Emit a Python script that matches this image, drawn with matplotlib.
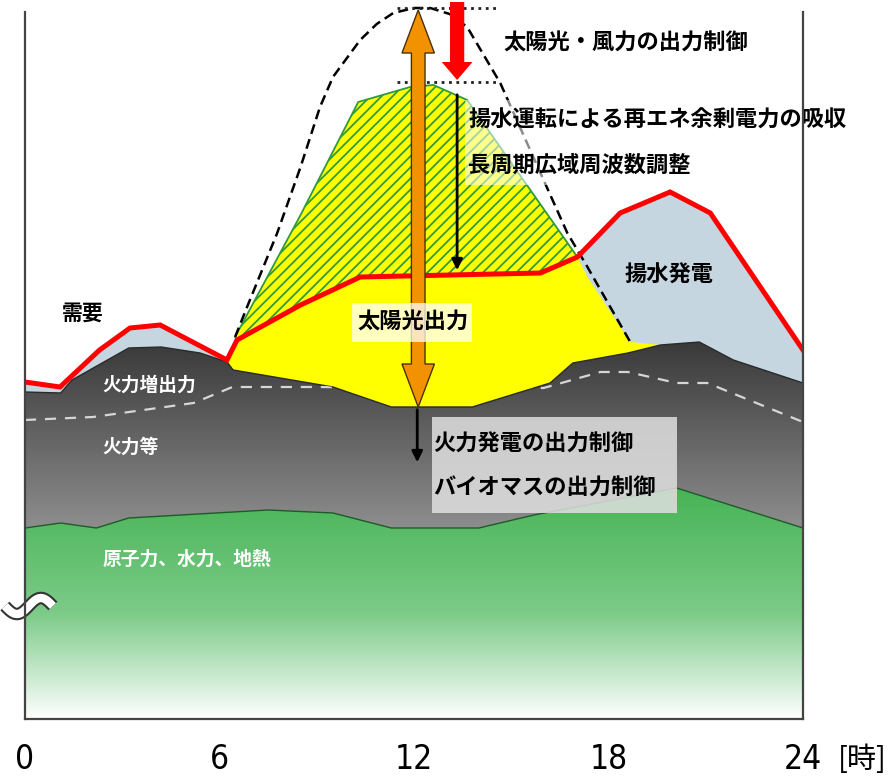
import matplotlib
matplotlib.use('Agg')
import matplotlib.pyplot as plt
import numpy as np
from matplotlib.patches import Polygon, Rectangle, FancyArrow
from matplotlib.colors import LinearSegmentedColormap

plt.rcParams['font.family'] = ['Noto Sans CJK JP', 'DejaVu Sans']
plt.rcParams['hatch.linewidth'] = 1.3

## data (hour of day, relative output)
# nuclear / hydro / geothermal (top edge)
base_h = [0, 1.1, 2.2, 3.2, 7.5, 9.5, 11.3, 14.0, 15.7, 20.1, 24]
base_v = [191, 196, 191, 201, 209, 206, 191, 191, 204, 231, 191]

# thermal etc. (top edge)
thermal_h = [0, 1.1, 1.45, 3.2, 4.2, 5.4, 6.23, 6.42, 9.5, 11.3, 13.8, 16.2, 16.9, 18.6, 19.6, 20.8, 21.85, 24]
thermal_v = [327, 326, 339, 371, 372, 366, 357, 349, 332, 312, 312, 336, 356, 366, 374, 377, 359, 336]

# boundary between base thermal and thermal increase (white dashed)
thermal_base_h = [0, 2.1, 5.2, 6.4, 8.8, 16.0, 17.75, 18.6, 20.1, 21.05, 24]
thermal_base_v = [299, 302, 316, 332, 332, 331, 347, 347, 336, 336, 297]

# demand (red line)
demand_h = [0, 1.08, 2.3, 3.24, 4.17, 6.23, 6.54, 8.5, 10.34, 15.9, 17.04, 18.36, 19.9, 21.14, 24]
demand_v = [337, 332, 369, 391, 394, 359, 379, 414, 442, 446, 462, 506, 527, 506, 369]

# solar after curtailment (green outline of hatched area)
solar_h = [6.48, 8.5, 10.28, 11.88, 12.6, 13.64, 17.04]
solar_v = [382, 504, 617, 632, 634, 619, 462]

# solar right edge going down to thermal
solar_edge_h = [17.35, 18.67, 19.6]
solar_edge_v = [442, 377, 374]

# potential solar output (black dashed)
potential_h = [6.48, 6.85, 7.78, 8.5, 9.1, 9.5, 10.34, 10.85, 11.36, 12.0, 12.5, 13.1, 13.64, 14.66, 15.68, 16.73, 17.35, 18.67]
potential_v = [382, 412, 486, 552, 612, 642, 679, 695, 706, 711, 711, 705, 692, 636, 562, 486, 452, 377]

fig = plt.figure(figsize=(8.88, 7.8), dpi=100)
ax = fig.add_axes([25 / 888, 61 / 780, 778 / 888, 719 / 780])
ax.set_xlim(0, 24)
ax.set_ylim(0, 719)


def gradient_fill(xs, ys, stops, ytop, z):
    verts = list(zip(xs, ys)) + [(xs[-1], 0), (xs[0], 0)]
    p = Polygon(verts, closed=True, facecolor='none', edgecolor='none', transform=ax.transData)
    ax.add_patch(p)
    cmap = LinearSegmentedColormap.from_list('grad', stops)
    grad = np.linspace(0, 1, 256).reshape(-1, 1)
    im = ax.imshow(grad, extent=[0, 24, 0, ytop], origin='lower', aspect='auto', cmap=cmap, zorder=z)
    im.set_clip_path(p)
    return p


# pumped storage generation (light blue, under demand)
ax.fill_between(demand_h, demand_v, 0, color='#c5d6e0', lw=0, zorder=1)

# solar output (yellow)
dem_in = [(h, v) for h, v in zip(demand_h, demand_v) if 6.2 <= h <= 17.1]
yverts = dem_in + list(zip(solar_edge_h, solar_edge_v)) + [(solar_edge_h[-1], 0), (dem_in[0][0], 0)]
ax.add_patch(Polygon(yverts, closed=True, facecolor='#ffff00', edgecolor='none', zorder=2))

# hatched: surplus absorbed by pumping
hverts = list(zip(solar_h, solar_v)) + [(h, v) for h, v in zip(demand_h, demand_v) if 6.5 <= h <= 17.0][::-1]
ax.add_patch(Polygon(hverts, closed=True, facecolor='#ffff00', edgecolor='#2f9a3a',
                     hatch='///', lw=1.3, zorder=3))

# thermal (grey gradient)
grey_poly = gradient_fill(thermal_h, thermal_v,
                          [(0, '#9a9a9a'), (0.5, '#8e8e8e'), (1, '#383838')], 380, 4)
ax.plot(thermal_h, thermal_v, color='#2a2a2a', lw=1, zorder=4.5)

# white dashed inside thermal
wl, = ax.plot(thermal_base_h, thermal_base_v, color='#d6d6d6', lw=1.6, dashes=(5, 4), zorder=4.6)
wl.set_clip_path(grey_poly)

# nuclear / hydro / geothermal (green gradient)
gradient_fill(base_h, base_v, [(0, '#ffffff'), (0.45, '#7ccb88'), (1, '#45b354')], 235, 5)
ax.plot(base_h, base_v, color='#1f5a2a', lw=1, zorder=5.5)

# potential solar (black dashed)
ax.plot(potential_h, potential_v, color='black', lw=1.8, dashes=(4, 2.2), zorder=6)

# demand
ax.plot(demand_h, demand_v, color='#ff0000', lw=3.6, zorder=7, solid_joinstyle='miter')

# dotted reference lines
ax.plot([11.48, 14.66], [711, 711], color='#222222', lw=2, ls=':', zorder=7)
ax.plot([11.48, 14.66], [637, 637], color='#222222', lw=2, ls=':', zorder=7)

# red curtailment arrow
ax.add_patch(FancyArrow(13.33, 717, 0, -78, width=0.44, head_width=0.95, head_length=18,
                        length_includes_head=True, color='#ff0000', lw=0, zorder=8))

# orange double arrow
ox, oy0, oy1, sw, hw, hl = 12.13, 312, 709, 0.42, 1.0, 43
overts = [(ox, oy1), (ox + hw / 2, oy1 - hl), (ox + sw / 2, oy1 - hl), (ox + sw / 2, oy0 + hl),
          (ox + hw / 2, oy0 + hl), (ox, oy0), (ox - hw / 2, oy0 + hl), (ox - sw / 2, oy0 + hl),
          (ox - sw / 2, oy1 - hl), (ox - hw / 2, oy1 - hl)]
ax.add_patch(Polygon(overts, closed=True, facecolor='#f39200', edgecolor='#4a3000', lw=1, zorder=8))

# black arrows
ax.annotate('', xy=(13.33, 446), xytext=(13.33, 627),
            arrowprops=dict(arrowstyle='-|>', color='black', lw=2, mutation_scale=16), zorder=9)
ax.annotate('', xy=(12.1, 254), xytext=(12.1, 312),
            arrowprops=dict(arrowstyle='-|>', color='black', lw=2, mutation_scale=16), zorder=9)

# label boxes
ax.add_patch(Rectangle((10.09, 377), 3.71, 39, facecolor='white', alpha=0.75, lw=0, zorder=9))
ax.add_patch(Rectangle((13.58, 534), 12.1, 85, facecolor='white', alpha=0.55, lw=0, zorder=9, clip_on=False))
ax.add_patch(Rectangle((12.56, 206), 7.56, 96, facecolor='#e0e0e0', alpha=0.85, lw=0, zorder=9))

# texts
bold = dict(fontweight='bold', zorder=10)
ax.text(1.79, 406, '需要', fontsize=15, ha='center', va='center', color='black', **bold)
ax.text(2.38, 334, '火力増出力', fontsize=13.5, ha='left', va='center', color='white', **bold)
ax.text(2.38, 272, '火力等', fontsize=13.5, ha='left', va='center', color='white', **bold)
ax.text(2.38, 160, '原子力、水力、地熱', fontsize=13.5, ha='left', va='center', color='white', **bold)
ax.text(11.98, 397, '太陽光出力', fontsize=16, ha='center', va='center', color='black', **bold)
ax.text(14.75, 676, '太陽光・風力の出力制御', fontsize=16, ha='left', va='center', color='black', **bold)
ax.text(13.67, 599, '揚水運転による再エネ余剰電力の吸収', fontsize=16, ha='left', va='center',
        color='black', clip_on=False, **bold)
ax.text(13.67, 554, '長周期広域周波数調整', fontsize=16, ha='left', va='center', color='black', **bold)
ax.text(19.88, 444, '揚水発電', fontsize=16, ha='center', va='center', color='black', **bold)
ax.text(12.59, 275, '火力発電の出力制御', fontsize=16, ha='left', va='center', color='black', **bold)
ax.text(12.59, 231, 'バイオマスの出力制御', fontsize=16, ha='left', va='center', color='black', **bold)

# axis break mark
t = np.linspace(0, 2 * np.pi, 60)
bx = -0.62 + (1.48 / (2 * np.pi)) * t
by = 113 - 8 * np.sin(t)
ax.plot(bx, by, color='#333333', lw=9, solid_capstyle='butt', clip_on=False, zorder=11)
ax.plot(bx, by, color='white', lw=6, solid_capstyle='butt', clip_on=False, zorder=12)

# axes styling
ax.spines['top'].set_visible(False)
for s in ['left', 'right', 'bottom']:
    ax.spines[s].set_color('#444444')
    ax.spines[s].set_linewidth(1.6)
    ax.spines[s].set_zorder(13)
ax.spines['left'].set_bounds(0, 707)
ax.spines['right'].set_bounds(0, 707)
ax.set_yticks([])
ax.set_xticks([0, 6, 12, 18, 24])
ax.set_xticklabels(['0', '6', '12', '18', '24'], fontsize=24,
                   family=['DejaVu Sans'], fontstretch='condensed')
ax.tick_params(axis='x', length=0, pad=17)
ax.text(25.83, -41, '[時]', fontsize=21, ha='center', va='center', clip_on=False)

fig.savefig('out.png', dpi=100)
